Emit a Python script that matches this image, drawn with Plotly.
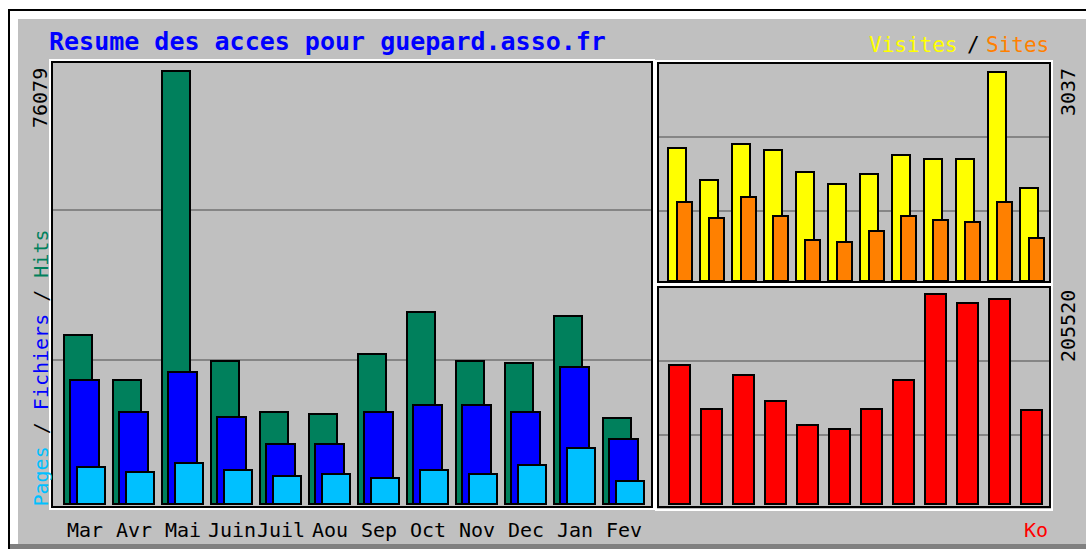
import plotly.graph_objects as go

W, H = 1086, 549

# Monthly summary data
months = ["Mar", "Avr", "Mai", "Juin", "Juil", "Aou", "Sep", "Oct", "Nov", "Dec", "Jan", "Fev"]
hits = [29694, 21787, 76079, 25125, 16164, 15813, 26355, 33734, 25125, 24774, 33032, 15110]
files = [21787, 16164, 23192, 15286, 10542, 10542, 16164, 17394, 17394, 16164, 24070, 11420]
pages = [6501, 5622, 7204, 5974, 4919, 5271, 4568, 5974, 5271, 6852, 9839, 4041]
visits = [1933, 1468, 1991, 1904, 1584, 1410, 1555, 1831, 1773, 1773, 3037, 1351]
sites = [1148, 915, 1221, 945, 596, 567, 727, 945, 886, 857, 1148, 625]
kbytes = [136040, 92980, 126250, 100800, 77320, 73400, 92980, 121360, 205520, 196720, 200630, 92000]

GREY = "#C0C0C0"
DKGREY = "#808080"
GRID = "#858585"
C_HITS = "#00805C"
C_FILES = "#0000FF"
C_PAGES = "#00C0FF"
C_VISITS = "#FFFF00"
C_SITES = "#FF8000"
C_KB = "#FF0000"
FONT = "DejaVu Sans Mono"


def fx(px):
    return px / W


def fy(py):
    return 1 - py / H


def yrange(top_px, bot_px, base_px, max_px, vmax):
    k = vmax / (base_px - max_px)
    return [-(bot_px - base_px) * k, (base_px - top_px) * k]


def xrange(left_px, right_px, first_px, step_px):
    return [(left_px - first_px) / step_px, (right_px - first_px) / step_px]


# panel geometry (pixels)
L_PANEL = dict(l=50, r=655, t=61, b=509)
RT_PANEL = dict(l=656, r=1052, t=62, b=286)
RB_PANEL = dict(l=656, r=1052, t=286, b=510)
L_STEP, L_FIRST = 49.0, 84.5
R_STEP, R_FIRST = 32.0, 679.0

xi = list(range(len(months)))
fig = go.Figure()

bar_line = dict(color="black", width=2)

# left panel: hits / files / pages
for vals, col, off, wid in [
    (hits, C_HITS, -20.5, 28),
    (files, C_FILES, -14.5, 29),
    (pages, C_PAGES, -7.5, 28),
]:
    fig.add_trace(go.Bar(
        x=xi, y=vals, xaxis="x", yaxis="y",
        offset=off / L_STEP, width=wid / L_STEP,
        marker=dict(color=col, line=bar_line),
        hoverinfo="skip", showlegend=False,
    ))

# right top panel: visits / sites
for vals, col, off, wid in [
    (visits, C_VISITS, -11, 18),
    (sites, C_SITES, -2, 15),
]:
    fig.add_trace(go.Bar(
        x=xi, y=vals, xaxis="x2", yaxis="y2",
        offset=off / R_STEP, width=wid / R_STEP,
        marker=dict(color=col, line=bar_line),
        hoverinfo="skip", showlegend=False,
    ))

# right bottom panel: kilobytes
fig.add_trace(go.Bar(
    x=xi, y=kbytes, xaxis="x3", yaxis="y3",
    offset=-10.5 / R_STEP, width=21 / R_STEP,
    marker=dict(color=C_KB, line=bar_line),
    hoverinfo="skip", showlegend=False,
))


def thirds(rng):
    lo, hi = rng
    return [lo + (hi - lo) / 3, lo + 2 * (hi - lo) / 3]


yl = yrange(L_PANEL["t"], L_PANEL["b"], 504, 71, max(hits))
yrt = yrange(RT_PANEL["t"], RT_PANEL["b"], 281, 72, max(visits))
yrb = yrange(RB_PANEL["t"], RB_PANEL["b"], 504, 294, max(kbytes))

common_y = dict(showticklabels=False, zeroline=False, showline=False, ticks="",
                showgrid=True, gridcolor=GRID, gridwidth=2, fixedrange=True,
                automargin=False)
common_x = dict(zeroline=False, showline=False, showgrid=False, fixedrange=True,
                showticklabels=False, ticks="", automargin=False)

fig.update_layout(
    width=W, height=H, autosize=False,
    margin=dict(l=0, r=0, t=0, b=0, pad=0),
    paper_bgcolor="white", plot_bgcolor=GREY,
    barmode="overlay", bargap=0,
    xaxis=dict(domain=[fx(L_PANEL["l"]), fx(L_PANEL["r"])],
               range=xrange(L_PANEL["l"], L_PANEL["r"], L_FIRST, L_STEP),
               anchor="y", **common_x),
    yaxis=dict(domain=[fy(L_PANEL["b"]), fy(L_PANEL["t"])], range=yl,
               tickmode="array", tickvals=thirds(yl), anchor="x", **common_y),
    xaxis2=dict(domain=[fx(RT_PANEL["l"]), fx(RT_PANEL["r"])],
                range=xrange(RT_PANEL["l"], RT_PANEL["r"], R_FIRST, R_STEP),
                anchor="y2", **common_x),
    yaxis2=dict(domain=[fy(RT_PANEL["b"]), fy(RT_PANEL["t"])], range=yrt,
                tickmode="array", tickvals=thirds(yrt), anchor="x2", **common_y),
    xaxis3=dict(domain=[fx(RB_PANEL["l"]), fx(RB_PANEL["r"])],
                range=xrange(RB_PANEL["l"], RB_PANEL["r"], R_FIRST, R_STEP),
                anchor="y3", **common_x),
    yaxis3=dict(domain=[fy(RB_PANEL["b"]), fy(RB_PANEL["t"])], range=yrb,
                tickmode="array", tickvals=thirds(yrb), anchor="x3", **common_y),
)

shapes = []


def rect(x0, y0, x1, y1, fill=None, line=None, layer="below"):
    d = dict(type="rect", xref="paper", yref="paper",
             x0=fx(x0), x1=fx(x1), y0=fy(y1), y1=fy(y0), layer=layer)
    d["fillcolor"] = fill if fill else "rgba(0,0,0,0)"
    d["line"] = line if line else dict(width=0)
    return d


# outer frame
shapes.append(rect(9, 10, 1100, 560, fill="white", line=dict(color="black", width=2)))
shapes.append(rect(18, 19, 1100, 544, fill=GREY))
shapes.append(rect(10, 544, 1100, 560, fill=DKGREY))

# etched panel borders: white outer, black inner
for (wl, wt, wr, wb), (bl, bt, br, bb) in [
    ((50, 60, 654, 509), (52, 62, 652, 507)),
    ((656, 61, 1052, 284), (658, 63, 1050, 282)),
    ((656, 285, 1052, 510), (658, 287, 1050, 507)),
]:
    shapes.append(rect(wl, wt, wr, wb, line=dict(color="white", width=2), layer="above"))
    shapes.append(rect(bl, bt, br, bb, line=dict(color="black", width=2), layer="above"))

fig.update_layout(shapes=shapes)

ann = []


def text(x, y, s, color="black", size=20, xanchor="center", yanchor="middle",
         angle=0, bold=False, xref="paper"):
    ann.append(dict(
        x=fx(x) if xref == "paper" else x, y=fy(y), xref=xref, yref="paper",
        text=s, showarrow=False,
        xanchor=xanchor, yanchor=yanchor, textangle=angle,
        font=dict(family=FONT, size=size, color=color,
                  weight="bold" if bold else "normal"),
        borderpad=0, borderwidth=0,
    ))


text(49, 42, "Resume des acces pour guepard.asso.fr", color=C_FILES, size=25,
     xanchor="left", bold=True)
text(958, 45, "Visites", color=C_VISITS, size=21, xanchor="right")
text(973, 45, "/", color="black", size=21)
text(986, 45, "Sites", color=C_SITES, size=21, xanchor="left")
text(40, 507,
     f"<span style='color:{C_PAGES}'>Pages</span> / "
     f"<span style='color:{C_FILES}'>Fichiers</span> / "
     f"<span style='color:{C_HITS}'>Hits</span>",
     angle=-90, yanchor="bottom")
text(40, 68, f"{max(hits)}", angle=-90, yanchor="top")
text(1068, 68, f"{max(visits)}", angle=-90, yanchor="top")
text(1068, 290, f"{max(kbytes)}", angle=-90, yanchor="top")
text(1036, 530, "Ko", color=C_KB)

# month labels under the left panel, placed on the month positions
for i, m in zip(xi, months):
    text(i, 530, m, xref="x")

fig.update_layout(annotations=ann)

fig.write_html("out.html")
